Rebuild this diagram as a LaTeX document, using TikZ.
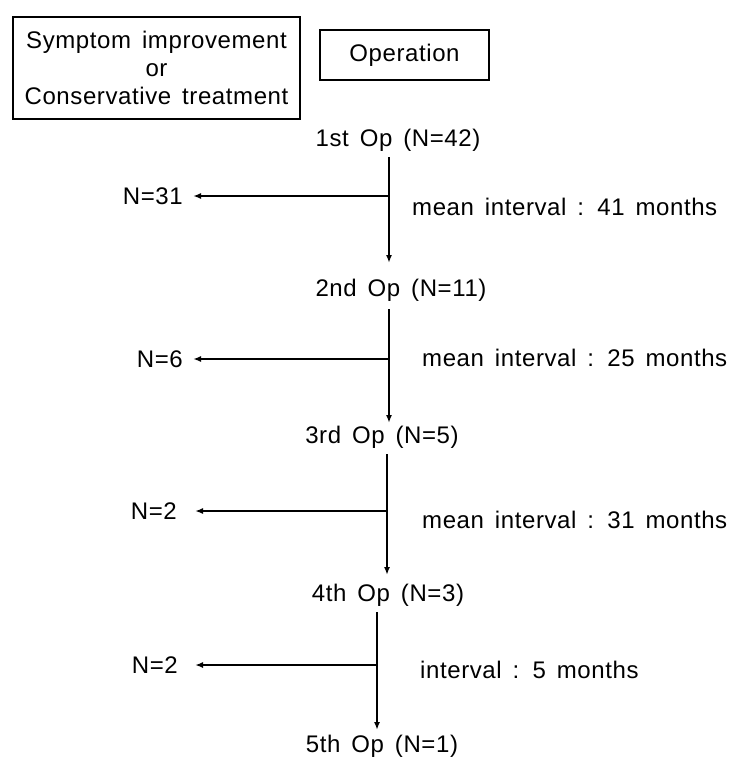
\documentclass[tikz,border=0pt]{standalone}
\usepackage{fontspec}
\setmainfont{Liberation Sans}[LetterSpace=2.5,WordSpace=1.5]
\usetikzlibrary{arrows.meta,calc}
\begin{document}
\begin{tikzpicture}[x=1pt,y=-1pt,
  txt/.style={inner sep=0pt,font=\fontsize{24}{28}\selectfont},
  boxed/.style={draw,line width=1.3pt,inner sep=0pt,align=center,font=\fontsize{24}{28}\selectfont},
  conn/.style={line width=2pt,-{Latex[length=8pt,width=6pt]}}]
\useasboundingbox (0,0) rectangle (732,758);
% legend boxes
\node[boxed,minimum width=287pt,minimum height=102pt] (lg1) at (156.5,68)
  {Symptom improvement\\or\\Conservative treatment};
\node[boxed,minimum width=169pt,minimum height=50pt] (lg2) at (404.5,55) {Operation};
% operations
\node[txt] (op1) at (398,140) {1st Op (N=42)};
\node[txt] (op2) at (401,290) {2nd Op (N=11)};
\node[txt] (op3) at (382,437) {3rd Op (N=5)};
\node[txt] (op4) at (388,595) {4th Op (N=3)};
\node[txt,anchor=base] (op5) at (382,752) {5th Op (N=1)};
% branch counts
\node[txt,anchor=east] (n1) at (183,196) {N=31};
\node[txt,anchor=east] (n2) at (183,359) {N=6};
\node[txt,anchor=east] (n3) at (177,511) {N=2};
\node[txt,anchor=east] (n4) at (178,665) {N=2};
% interval labels
\node[txt,anchor=west] (i1) at (412,207) {mean interval : 41 months};
\node[txt,anchor=west] (i2) at (422,358) {mean interval : 25 months};
\node[txt,anchor=west] (i3) at (422,520) {mean interval : 31 months};
\node[txt,anchor=west] (i4) at (420,670) {interval : 5 months};
% branch points
\coordinate (b1) at (389,196);
\coordinate (b2) at (389,359);
\coordinate (b3) at (387,511);
\coordinate (b4) at (377,665);
% vertical connectors
\draw[conn] ($(op1.center -| b1)+(0,17)$) -- ($(op2.center -| b1)+(0,-27)$);
\draw[conn] ($(op2.center -| b2)+(0,19)$) -- ($(op3.center -| b2)+(0,-14)$);
\draw[conn] ($(op3.center -| b3)+(0,17)$) -- ($(op4.center -| b3)+(0,-20)$);
\draw[conn] ($(op4.center -| b4)+(0,17)$) -- ($(op5.base -| b4)+(0,-22)$);
% horizontal connectors
\draw[conn] (b1) -- ($(b1 -| n1.east)+(10,0)$);
\draw[conn] (b2) -- ($(b2 -| n2.east)+(10,0)$);
\draw[conn] (b3) -- ($(b3 -| n3.east)+(18,0)$);
\draw[conn] (b4) -- ($(b4 -| n4.east)+(17,0)$);
\end{tikzpicture}
\end{document}
